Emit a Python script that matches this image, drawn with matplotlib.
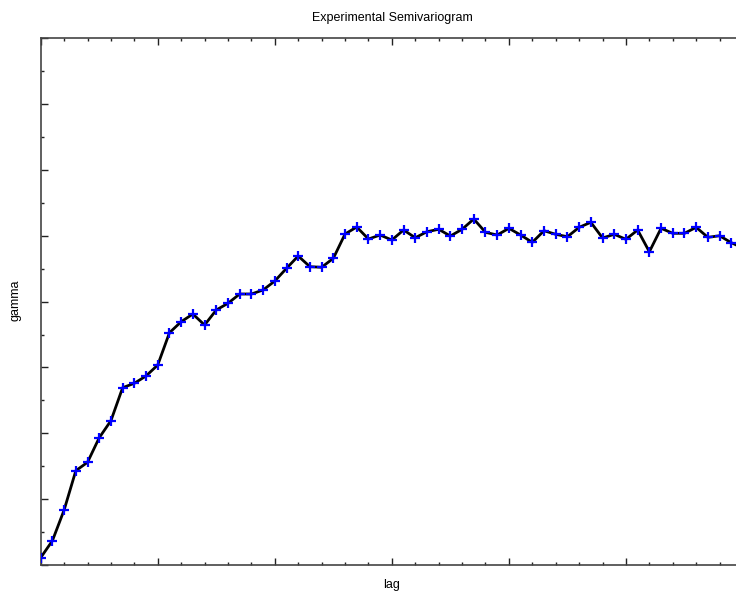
import matplotlib
matplotlib.use("Agg")
import matplotlib.pyplot as plt
from matplotlib.ticker import MultipleLocator, NullFormatter

plt.rcParams['font.family'] = ['Liberation Sans', 'DejaVu Sans']

lag = list(range(61))
gamma = [0.111, 0.369, 0.835, 1.432, 1.560, 1.933, 2.192, 2.693, 2.760, 2.871,
         3.038, 3.528, 3.695, 3.812, 3.645, 3.873, 3.975, 4.116, 4.116, 4.177,
         4.313, 4.506, 4.693, 4.531, 4.522, 4.658, 5.027, 5.134, 4.951, 5.012,
         4.936, 5.088, 4.971, 5.062, 5.099, 4.997, 5.099, 5.255, 5.053, 5.012,
         5.114, 5.012, 4.901, 5.077, 5.023, 4.986, 5.129, 5.205, 4.967, 5.023,
         4.947, 5.088, 4.758, 5.114, 5.038, 5.038, 5.129, 4.977, 5.001, 4.895,
         4.815]

W, H = 736, 592
fig = plt.figure(figsize=(W / 100, H / 100), dpi=100)
left, right, top, bottom = 40.7, 743.0, 38.3, 565.0
ax = fig.add_axes([left / W, (H - bottom) / H, (right - left) / W, (bottom - top) / H])

ax.plot(lag, gamma, color='black', linewidth=2.0, zorder=2)
ax.plot(lag, gamma, linestyle='none', marker='+', color='#0000ff',
        markersize=7, markeredgewidth=1.6, zorder=3)

ax.set_xlim(0, 60)
ax.set_ylim(0, 8)
ax.xaxis.set_major_locator(MultipleLocator(10))
ax.xaxis.set_minor_locator(MultipleLocator(2))
ax.yaxis.set_major_locator(MultipleLocator(1))
ax.yaxis.set_minor_locator(MultipleLocator(0.5))
ax.xaxis.set_major_formatter(NullFormatter())
ax.yaxis.set_major_formatter(NullFormatter())
ax.tick_params(which='both', direction='in', top=True, right=True, color='#222222')
ax.tick_params(which='major', length=5, width=1)
ax.tick_params(which='minor', length=2.5, width=1)
for s in ax.spines.values():
    s.set_color('#444444')
    s.set_linewidth(1.2)

fig.text(392 / W, 1 - 18 / H, 'Experimental Semivariogram', ha='center', va='center', fontsize=9)
fig.text(392 / W, 1 - 585 / H, 'lag', ha='center', va='center', fontsize=9)
fig.text(16 / W, 1 - 300 / H, 'gamma', ha='center', va='center', rotation=90, fontsize=9)

fig.savefig('out.png', dpi=100)
